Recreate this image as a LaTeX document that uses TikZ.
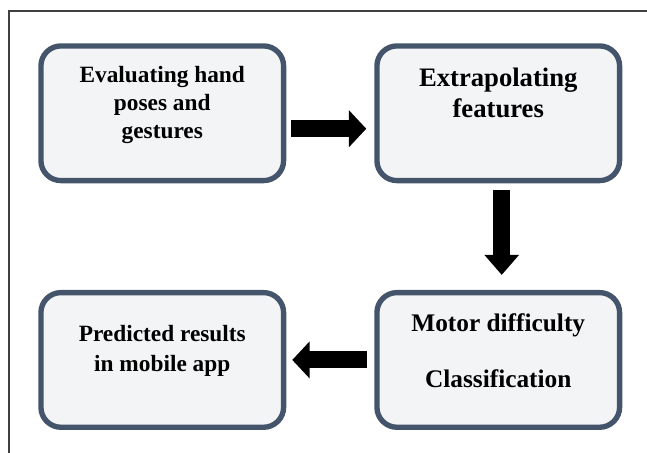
\documentclass[tikz,border=0pt]{standalone}
\usepackage{fontspec}
\setmainfont{Liberation Serif}
\usetikzlibrary{matrix,arrows.meta}
\definecolor{boxline}{RGB}{68,84,106}
\definecolor{boxfill}{RGB}{243,244,246}

\begin{document}
\begin{tikzpicture}[x=0.75pt, y=-0.75pt,
    box/.style={draw=boxline, fill=boxfill, line width=4pt, rounded corners=15pt,
      inner sep=2pt, minimum width=182pt, minimum height=101pt, align=center,
      font=\fontsize{17.5}{21}\selectfont\bfseries},
    blockarrow/.style={line width=12.75pt, -{Triangle[length=13pt,width=27pt]}}]
    \useasboundingbox (0,0) rectangle (647,453);
    \draw[line width=1pt, black!75] (9,453) -- (9,11) -- (647,11);
    \matrix (M)[inner sep=0pt, column sep=66pt, row sep=80pt, anchor=north west] at (38,43)
    {
      \node[box] (eval) {Evaluating hand\\ poses and\\ gestures\\[-4pt]\mbox{}}; &
      \node[box, font=\fontsize{20}{23}\selectfont\bfseries] (feat) {Extrapolating\\ features\\[8pt]\mbox{}}; \\
      \node[box, font=\fontsize{17.5}{22.5}\selectfont\bfseries] (pred) {Predicted results\\ in mobile app\\[-5.6pt]\mbox{}}; &
      \node[box, font=\fontsize{19}{23.5}\selectfont\bfseries] (motor) {Motor difficulty\\[18.5pt] Classification\\[-8.8pt]\mbox{}}; \\
    };
    \draw[blockarrow, shorten <=3.75pt, shorten >=6pt] ([yshift=-11.6pt]eval.east) -- ([yshift=-11.6pt]feat.west);
    \draw[blockarrow, -{Triangle[length=15pt,width=25pt]}, shorten <=5.25pt, shorten >=11.25pt] ([xshift=2.6pt]feat.south) -- ([xshift=2.6pt]motor.north);
    \draw[blockarrow, shorten <=5.25pt, shorten >=4.5pt] (motor.west) -- (pred.east);
\end{tikzpicture}
\end{document}
